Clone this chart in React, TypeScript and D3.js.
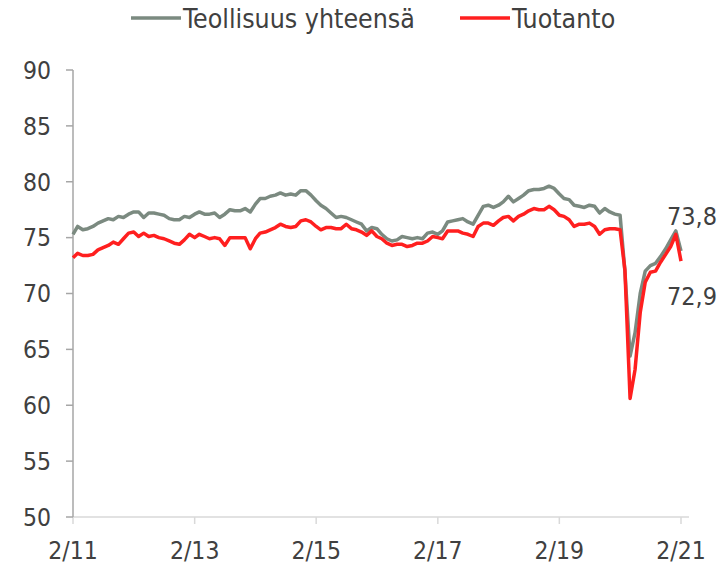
import * as d3 from "d3";

// monthly index, Feb 2011 .. Feb 2021
const startYear = 2011;
const startMonth = 1; // February

const teollisuus = [
  75.3, 76.0, 75.7, 75.8, 76.0, 76.3, 76.5, 76.7, 76.6, 76.9, 76.8, 77.1,
  77.3, 77.3, 76.8, 77.2, 77.2, 77.1, 77.0, 76.7, 76.6, 76.6, 76.9, 76.8,
  77.1, 77.3, 77.1, 77.1, 77.2, 76.8, 77.1, 77.5, 77.4, 77.4, 77.6, 77.3,
  78.0, 78.5, 78.5, 78.7, 78.8, 79.0, 78.8, 78.9, 78.8, 79.2, 79.2, 78.8,
  78.3, 77.9, 77.6, 77.2, 76.8, 76.9, 76.8, 76.6, 76.4, 76.2, 75.6, 75.9,
  75.8, 75.3, 74.9, 74.7, 74.8, 75.1, 75.0, 74.9, 75.0, 74.9, 75.4, 75.5,
  75.3, 75.6, 76.4, 76.5, 76.6, 76.7, 76.4, 76.2, 77.0, 77.8, 77.9, 77.7,
  77.9, 78.2, 78.7, 78.2, 78.5, 78.8, 79.2, 79.3, 79.3, 79.4, 79.6, 79.4,
  78.9, 78.5, 78.4, 77.9, 77.8, 77.7, 77.9, 77.8, 77.2, 77.6, 77.3, 77.1,
  77.0, 72.0, 64.4, 66.5, 70.0, 72.0, 72.5, 72.7, 73.3, 74.0, 74.8, 75.6,
  73.8,
];

const tuotanto = [
  73.2, 73.6, 73.4, 73.4, 73.5, 73.9, 74.1, 74.3, 74.6, 74.4, 74.9, 75.4,
  75.5, 75.1, 75.4, 75.1, 75.2, 75.0, 74.9, 74.7, 74.5, 74.4, 74.8, 75.3,
  75.0, 75.3, 75.1, 74.9, 75.0, 74.9, 74.3, 75.0, 75.0, 75.0, 75.0, 74.0,
  74.9, 75.4, 75.5, 75.7, 75.9, 76.2, 76.0, 75.9, 76.0, 76.5, 76.6, 76.4,
  76.0, 75.7, 75.9, 75.9, 75.8, 75.8, 76.2, 75.8, 75.7, 75.5, 75.2, 75.6,
  75.1, 74.9, 74.5, 74.3, 74.4, 74.4, 74.2, 74.3, 74.5, 74.5, 74.7, 75.1,
  75.0, 74.9, 75.6, 75.6, 75.6, 75.4, 75.3, 75.1, 76.0, 76.3, 76.3, 76.1,
  76.5, 76.8, 76.9, 76.5, 76.9, 77.1, 77.4, 77.6, 77.5, 77.5, 77.8, 77.5,
  77.0, 76.9, 76.6, 76.0, 76.2, 76.2, 76.3, 76.0, 75.3, 75.7, 75.8, 75.8,
  75.7, 72.1, 60.6, 63.2, 68.3, 71.0, 71.9, 72.0, 72.8, 73.5, 74.2, 75.3,
  72.9,
];

const yTicks = [50, 55, 60, 65, 70, 75, 80, 85, 90];
const seriesNames = ["Teollisuus yhteensä", "Tuotanto"];
const seriesColors = ["#7b8a80", "#ff1f1f"];
const endLabels = ["73,8", "72,9"];

const FONT = "'DejaVu Sans Condensed', 'DejaVu Sans', sans-serif";
const TEXT = "#404040";

export default function App() {
  const W = 718;
  const H = 564;
  const dates = teollisuus.map((_, i) => new Date(startYear, startMonth + i, 1));

  const x = d3.scaleTime()
    .domain([dates[0], dates[dates.length - 1]])
    .range([73, 681]);
  const y = d3.scaleLinear().domain([50, 90]).range([517, 70]);

  const xTicks = dates.filter((_, i) => i % 24 === 0);
  const fmt = (d: Date) => `${d.getMonth() + 1}/${String(d.getFullYear()).slice(2)}`;

  const line = d3.line<number>()
    .x((_, i) => x(dates[i]))
    .y((d) => y(d));

  const last = dates[dates.length - 1];

  return (
    <svg
      width={W}
      height={H}
      style={{ position: "absolute", left: 0, top: 0, background: "#fff" }}
      fontFamily={FONT}
    >
      {/* x axis */}
      <line x1={73} x2={689} y1={y(50)} y2={y(50)} stroke="#d9d9d9" strokeWidth={1.5} />
      {xTicks.map((d) => (
        <g key={+d} transform={`translate(${x(d)},0)`}>
          <line y1={y(50)} y2={y(50) + 7} stroke="#d9d9d9" strokeWidth={1.5} />
          <text y={559} textAnchor="middle" fontSize={24.5} fill={TEXT}>
            {fmt(d)}
          </text>
        </g>
      ))}

      {/* y axis */}
      <line x1={73} x2={73} y1={y(90)} y2={y(50)} stroke="#a6a6a6" strokeWidth={1.5} />
      {yTicks.map((t) => (
        <g key={t} transform={`translate(0,${y(t)})`}>
          <line x1={66} x2={73} stroke="#a6a6a6" strokeWidth={1.5} />
          <text x={51} dy="0.36em" textAnchor="end" fontSize={24.5} fill={TEXT}>
            {t}
          </text>
        </g>
      ))}

      {/* series */}
      {[teollisuus, tuotanto].map((s, i) => (
        <path
          key={i}
          d={line(s) ?? ""}
          fill="none"
          stroke={seriesColors[i]}
          strokeWidth={3.5}
          strokeLinejoin="round"
        />
      ))}

      {/* end labels */}
      <text x={x(last) - 14} y={y(73.8) - 26} fontSize={25} fill={TEXT}>
        {endLabels[0]}
      </text>
      <text x={x(last) - 14} y={y(72.9) + 44} fontSize={25} fill={TEXT}>
        {endLabels[1]}
      </text>

      {/* legend */}
      {seriesNames.map((n, i) => {
        const lx = i === 0 ? 131 : 460;
        return (
          <g key={n} transform={`translate(${lx},18)`}>
            <line x1={0} x2={50} stroke={seriesColors[i]} strokeWidth={3.5} />
            <text x={52} dy="0.36em" fontSize={26.5} fill={TEXT}>
              {n}
            </text>
          </g>
        );
      })}
    </svg>
  );
}
